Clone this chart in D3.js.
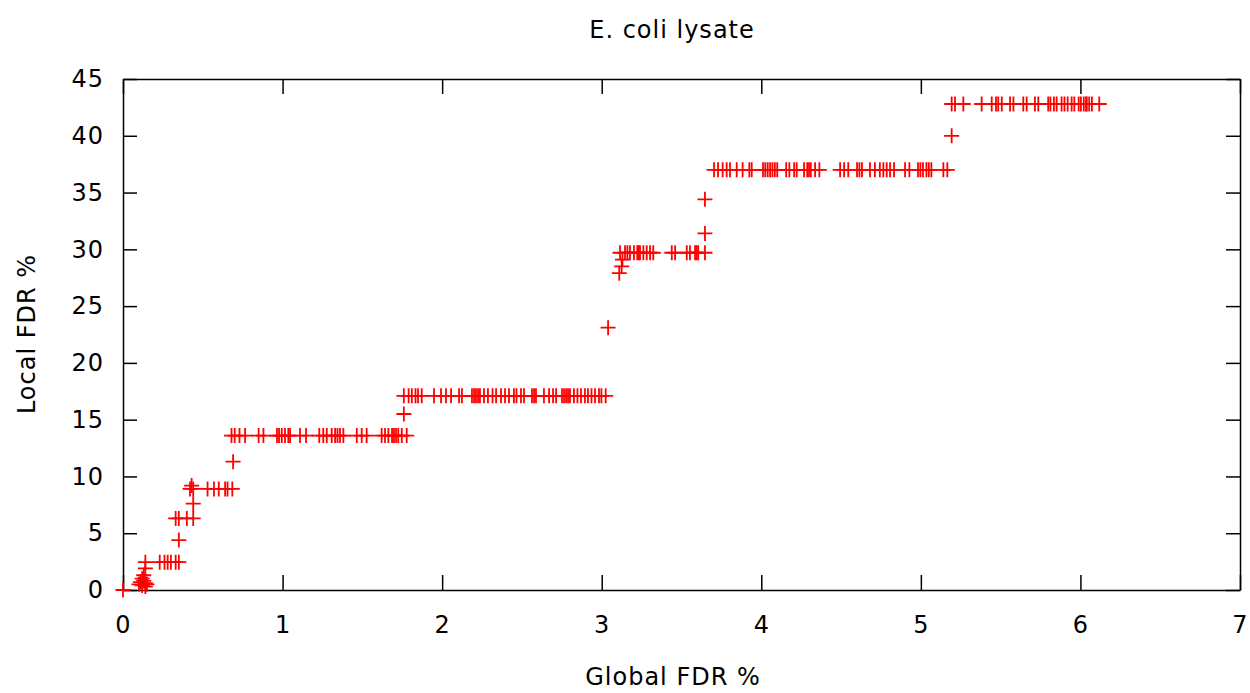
<!DOCTYPE html>
<html>
<head>
<meta charset="utf-8">
<script src="https://cdn.jsdelivr.net/npm/d3@7/dist/d3.min.js"></script>
<style>
  html, body { margin: 0; padding: 0; background: #fff; }
  svg { display: block; }
  text { font-family: "DejaVu Sans", Verdana, sans-serif; fill: #000; }
</style>
</head>
<body>
<svg id="chart" width="1250" height="693"></svg>
<script>
// Local FDR (%) reached at each global FDR (%) threshold, grouped by step level
const stepLocal = [0, 0.5, 0.7, 0.4, 0.8, 0.6, 0.5, 1.0, 0.3, 1.3, 1.9,
  2.45, 4.4, 6.3, 7.6, 8.9, 9.2, 11.3, 13.6, 15.5, 17.1, 23.1,
  27.9, 28.5, 29.1, 29.7, 31.4, 34.4, 37.0, 40.0, 42.8];

const stepGlobal = [
  [0],
  [0.10], [0.11], [0.12], [0.13], [0.14], [0.15], [0.12], [0.14],
  [0.13],
  [0.14],
  [0.14, 0.23, 0.26, 0.28, 0.30, 0.33, 0.35],
  [0.35],
  [0.33, 0.35, 0.40, 0.44],
  [0.44],
  [0.42, 0.44, 0.53, 0.57, 0.60, 0.64, 0.655, 0.685],
  [0.43],
  [0.69],
  [0.68, 0.70, 0.73, 0.765, 0.85, 0.88, 0.965, 0.978, 0.995, 1.015, 1.036, 1.047,
   1.109, 1.147, 1.23, 1.255, 1.277, 1.308, 1.329, 1.344, 1.36, 1.381, 1.465, 1.496,
   1.527, 1.621, 1.642, 1.663, 1.686, 1.698, 1.711, 1.725, 1.747, 1.778],
  [1.76],
  [1.76, 1.79, 1.81, 1.833, 1.849, 1.872, 1.949, 1.993, 2.024, 2.056, 2.106, 2.124,
   2.187, 2.200, 2.212, 2.225, 2.237, 2.262, 2.287, 2.316, 2.338, 2.369, 2.394, 2.419,
   2.450, 2.466, 2.494, 2.513, 2.563, 2.576, 2.588, 2.638, 2.670, 2.695, 2.714, 2.751,
   2.764, 2.777, 2.789, 2.801, 2.826, 2.848, 2.870, 2.895, 2.914, 2.936, 2.958, 2.983,
   2.998, 3.025],
  [3.04],
  [3.11],
  [3.125],
  [3.13],
  [3.115, 3.146, 3.161, 3.177, 3.202, 3.223, 3.233, 3.240, 3.261, 3.282, 3.303, 3.323,
   3.439, 3.460, 3.533, 3.553, 3.585, 3.595, 3.605, 3.647],
  [3.647],
  [3.647],
  [3.704, 3.729, 3.758, 3.783, 3.804, 3.846, 3.883, 3.925, 3.940, 4.011, 4.025, 4.04,
   4.055, 4.07, 4.085, 4.10, 4.156, 4.176, 4.206, 4.222, 4.268, 4.288, 4.299, 4.310,
   4.337, 4.364, 4.494, 4.519, 4.545, 4.600, 4.615, 4.631, 4.681, 4.712, 4.743, 4.765,
   4.786, 4.807, 4.832, 4.901, 4.928, 4.982, 4.997, 5.013, 5.035, 5.050, 5.066, 5.141,
   5.166],
  [5.193],
  [5.193, 5.214, 5.266, 5.381, 5.444, 5.471, 5.485, 5.507, 5.559, 5.580, 5.642, 5.663,
   5.715, 5.736, 5.798, 5.812, 5.834, 5.851, 5.882, 5.900, 5.920, 5.945, 5.962, 5.989,
   6.003, 6.021, 6.035, 6.04, 6.055, 6.072, 6.118]
];

const xTicks = [0, 1, 2, 3, 4, 5, 6, 7];
const yTicks = [0, 5, 10, 15, 20, 25, 30, 35, 40, 45];
const titleText = "E. coli lysate";
const xTitle = "Global FDR %";
const yTitle = "Local FDR %";

// Flatten the step groups into (global, local) points
const points = [];
stepGlobal.forEach((xs, i) => xs.forEach(g => points.push({ g, l: stepLocal[i] })));

const margin = { left: 123, right: 10, top: 79, bottom: 103 };
const W = 1250, H = 693;
const svg = d3.select("#chart");

const x = d3.scaleLinear().domain([0, 7]).range([margin.left, W - margin.right]);
const y = d3.scaleLinear().domain([0, 45]).range([H - margin.bottom, margin.top]);

const fs = 24;
const ls = 1;

function styleAxis(g) {
  g.selectAll(".domain").attr("stroke", "#000").attr("stroke-width", 1.5);
  g.selectAll(".tick line").attr("stroke", "#000").attr("stroke-width", 1.5);
  g.selectAll("text").attr("font-size", fs).attr("letter-spacing", ls)
    .attr("font-family", "DejaVu Sans, sans-serif").attr("fill", "#000");
}

// Bottom and left axes with inward ticks and labels
svg.append("g")
  .attr("transform", `translate(0,${y(0)})`)
  .call(d3.axisBottom(x).tickValues(xTicks).tickFormat(d3.format("d"))
    .tickSizeInner(-15).tickSizeOuter(0).tickPadding(26))
  .call(styleAxis);

svg.append("g")
  .attr("transform", `translate(${x(0)},0)`)
  .call(d3.axisLeft(y).tickValues(yTicks).tickFormat(d3.format("d"))
    .tickSizeInner(-14).tickSizeOuter(0).tickPadding(19))
  .call(styleAxis);

// Mirrored top and right axes, ticks only
svg.append("g")
  .attr("transform", `translate(0,${y(45)})`)
  .call(d3.axisTop(x).tickValues(xTicks).tickFormat("")
    .tickSizeInner(-15).tickSizeOuter(0))
  .call(styleAxis);

svg.append("g")
  .attr("transform", `translate(${x(7)},0)`)
  .call(d3.axisRight(y).tickValues(yTicks).tickFormat("")
    .tickSizeInner(-14).tickSizeOuter(0))
  .call(styleAxis);

// Plus-shaped point markers
const arm = 7.5;
const marks = svg.append("g").attr("stroke", "#ff0000").attr("stroke-width", 1.8).attr("fill", "none");
marks.selectAll("path")
  .data(points)
  .join("path")
  .attr("d", d => {
    const cx = x(d.g), cy = y(d.l);
    return `M${cx - arm},${cy}H${cx + arm}M${cx},${cy - arm}V${cy + arm}`;
  });

// Titles
svg.append("text")
  .attr("x", 672).attr("y", 30)
  .attr("text-anchor", "middle").attr("dominant-baseline", "central")
  .attr("font-size", fs).attr("letter-spacing", ls)
  .text(titleText);

svg.append("text")
  .attr("x", 673).attr("y", 677)
  .attr("text-anchor", "middle").attr("dominant-baseline", "central")
  .attr("font-size", fs).attr("letter-spacing", ls)
  .text(xTitle);

svg.append("text")
  .attr("transform", `translate(27,334) rotate(-90)`)
  .attr("text-anchor", "middle").attr("dominant-baseline", "central")
  .attr("font-size", fs).attr("letter-spacing", ls)
  .text(yTitle);
</script>
</body>
</html>
